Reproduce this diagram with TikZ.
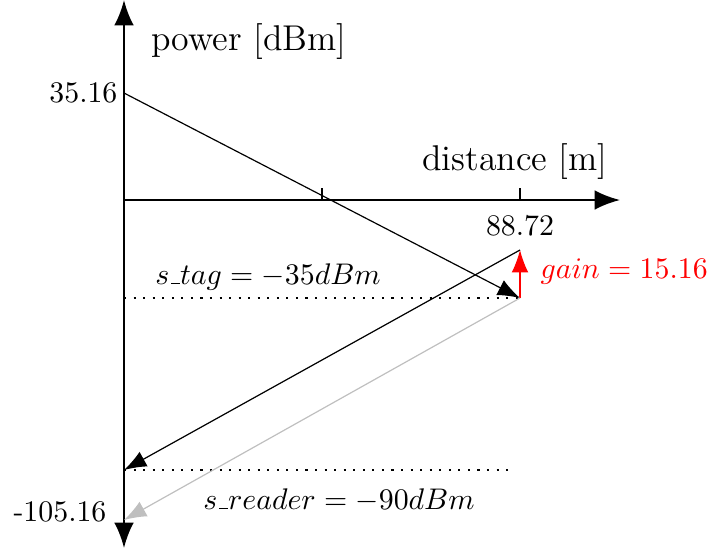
\documentclass[tikz,border=0pt]{standalone}
\usetikzlibrary{arrows.meta}
\newcommand\usc{\leavevmode\kern.06em\vbox{\hrule width.3em}}
\begin{document}
\begin{tikzpicture}[x=0.335pt,y=-0.335pt,
  axis/.style={line width=0.8pt,-{Latex[length=8.5pt,width=6.6pt]}},
  sig/.style={line width=0.4pt,-{Latex[length=7.5pt,width=5.6pt]}},
  lvl/.style={line width=0.4pt,dash pattern=on 0.7pt off 2.5pt},
  tick/.style={line width=0.4pt},
  axlabel/.style={font=\large}]
\useasboundingbox (0,0) rectangle (714,548);
% coordinates
\coordinate (o) at (124,200);
\coordinate (ytop) at (124,0);
\coordinate (ybot) at (124,548);
\coordinate (xend) at (620,200);
\coordinate (t1a) at (322,188); \coordinate (t1b) at (322,200);
\coordinate (t2a) at (520,188); \coordinate (t2b) at (520,200);
\coordinate (p0) at (124,93);
\coordinate (tag) at (520,298);
\coordinate (tagup) at (520,250);
\coordinate (rd) at (124,470);
\coordinate (rdg) at (124,520);
\coordinate (ltag) at (124,298);
\coordinate (lrd) at (512,470);
% axes
\draw[axis] (o) -- (ytop);
\draw[axis] (o) -- (ybot);
\draw[axis] (o) -- (xend);
\draw[tick] (t1a) -- (t1b);
\draw[tick] (t2a) -- (t2b);
% levels
\draw[lvl] (ltag) -- (tag);
\draw[lvl] (rd) -- (lrd);
% signals
\draw[sig] (p0) -- (tag);
\draw[sig,red] (tag) -- (tagup);
\draw[sig] (tagup) -- (rd);
\draw[sig,black!25] (tag) -- (rdg);
% labels
\node[axlabel] (lp) at (249,42) {power [dBm]};
\node[anchor=east,inner sep=1pt] (l35) at (121,93) {35.16};
\node[axlabel] (ld) at (515,162) {distance [m]};
\node (l88) at (520,226) {88.72};
\node (lst) at (268,277) {$s\usc tag = -35dBm$};
\node[anchor=west,red,inner sep=0pt] (lg) at (540,272) {$gain = 15.16$};
\node[anchor=east,inner sep=1pt] (l105) at (110,512) {-105.16};
\node (lsr) at (339,500) {$s\usc reader = -90dBm$};
\end{tikzpicture}
\end{document}
